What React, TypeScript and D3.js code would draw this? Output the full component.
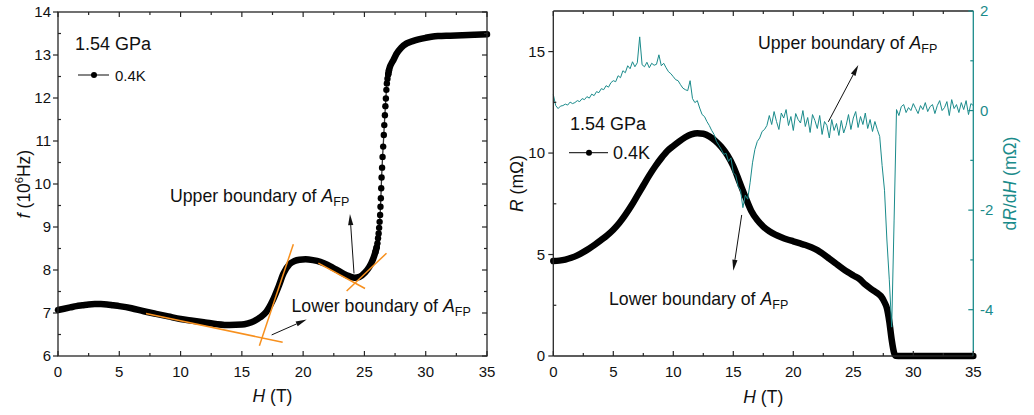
import React from 'react';
import * as d3 from 'd3';

const FONT = "'Liberation Sans', Arial, Helvetica, sans-serif";
const TEAL = '#1a8b8b';
const ORANGE = '#f7901e';
const AXIS = '#262626';

// ---------- Left panel: frequency f (10^6 Hz) vs field H (T) ----------
const fField = [0, 0.5, 1, 1.5, 2, 2.5, 3, 3.5, 4, 4.5, 5, 6, 7, 8, 9, 10, 11, 12, 13, 14, 15, 15.5, 16, 16.5, 17, 17.5, 18, 18.4, 18.9, 19.3, 19.7, 20.2, 20.8, 21.4, 22, 22.5, 23, 23.55, 24.2, 24.6, 25.05, 25.4, 25.7, 25.9, 26.0,
  26.06, 26.11, 26.16, 26.2, 26.24, 26.28, 26.31, 26.34, 26.37, 26.4, 26.44, 26.48, 26.53, 26.58, 26.62, 26.67, 26.71, 26.75, 26.79, 26.83, 26.88, 26.94,
  27.0, 27.1, 27.2, 27.36, 27.6, 28, 28.45, 29, 30, 30.6, 31, 32, 33, 34, 35];
const fFreq = [7.07, 7.10, 7.13, 7.16, 7.18, 7.20, 7.21, 7.21, 7.20, 7.18, 7.16, 7.11, 7.04, 6.98, 6.92, 6.86, 6.82, 6.78, 6.74, 6.72, 6.73, 6.76, 6.81, 6.90, 7.03, 7.28, 7.62, 7.92, 8.14, 8.21, 8.24, 8.25, 8.23, 8.19, 8.12, 8.04, 7.96, 7.88, 7.82, 7.84, 7.94, 8.07, 8.25, 8.42, 8.53,
  8.62, 8.74, 8.85, 8.98, 9.12, 9.28, 9.47, 9.67, 9.90, 10.15, 10.38, 10.63, 10.87, 11.14, 11.37, 11.60, 11.81, 11.99, 12.19, 12.34, 12.45, 12.55,
  12.64, 12.74, 12.80, 12.88, 13.02, 13.17, 13.27, 13.33, 13.40, 13.43, 13.44, 13.45, 13.46, 13.47, 13.48];

// ---------- Right panel: resistance R (mΩ) vs field H (T) ----------
const rField = [0, 0.5, 1, 1.5, 2, 2.5, 3, 3.5, 4, 4.5, 5, 5.5, 6, 6.5, 7, 7.5, 8, 8.5, 9, 9.5, 10, 10.5, 11, 11.5, 12, 12.5, 13, 13.5, 14, 14.5, 15, 15.5, 16, 16.5, 17, 17.5, 18, 18.5, 19, 19.5, 20, 20.5, 21, 21.5, 22, 22.5, 23, 23.5, 24, 24.5, 25, 25.5, 26, 26.5, 27, 27.3, 27.6, 27.8, 28, 28.2, 28.4, 28.5, 29, 30, 31, 32, 33, 34, 35];
const rRes = [4.68, 4.70, 4.75, 4.84, 4.96, 5.12, 5.30, 5.50, 5.72, 5.95, 6.22, 6.55, 6.95, 7.40, 7.90, 8.40, 8.90, 9.35, 9.75, 10.10, 10.35, 10.58, 10.78, 10.92, 10.98, 10.95, 10.82, 10.60, 10.30, 9.90, 9.35, 8.60, 7.85, 7.15, 6.70, 6.38, 6.15, 5.98, 5.85, 5.74, 5.65, 5.56, 5.47, 5.36, 5.22, 5.02, 4.80, 4.58, 4.36, 4.15, 3.97, 3.80, 3.52, 3.30, 3.10, 2.95, 2.65, 2.35, 1.70, 0.80, 0.15, 0.01, 0, 0, 0, 0, 0, 0, 0];

// ---------- Right panel: dR/dH (mΩ/T), one value every 0.2 T from 0 to 35 T ----------
const dStep = 0.2;
const dDeriv = [
  0.32, 0.10, 0.04, 0.09, 0.10, 0.13, 0.11, 0.17, 0.14, 0.16,
  0.20, 0.18, 0.24, 0.22, 0.28, 0.25, 0.33, 0.30, 0.38, 0.36,
  0.44, 0.42, 0.50, 0.47, 0.56, 0.60, 0.58, 0.70, 0.66, 0.80,
  0.76, 0.90, 0.84, 0.98, 0.88, 0.96, 1.48, 0.92, 0.88, 0.97,
  0.86, 0.95, 0.91, 0.93, 1.12, 0.90, 0.95, 0.86, 0.78, 0.74,
  0.68, 0.62, 0.60, 0.52, 0.45, 0.42, 0.40, 0.60, 0.24, 0.16,
  0.20, 0.05, -0.08, -0.12, -0.22, -0.30, -0.40, -0.48, -0.62, -0.70,
  -0.78, -0.88, -0.86, -1.02, -0.95, -1.25, -1.30, -1.52, -1.60, -1.95,
  -1.70, -1.78, -1.45, -1.05, -0.78, -0.62, -0.55, -0.42, -0.38, -0.30,
  -0.10, -0.28, -0.02, -0.22, -0.38, -0.05, -0.15, 0.02, -0.30, -0.12,
  -0.40, -0.06, -0.18, -0.25, 0.00, -0.32, -0.14, -0.44, -0.08, -0.20,
  -0.36, -0.10, -0.48, -0.22, -0.30, -0.55, -0.18, -0.40, -0.26, -0.50,
  -0.20, -0.45, -0.30, -0.08, -0.38, -0.15, -0.02, -0.34, -0.12, -0.28,
  -0.05, -0.36, -0.18, -0.42, -0.22, -0.38, -0.52, -1.10, -1.60, -2.60,
  -3.40, -4.35, -2.20, 0.02, -0.10, 0.08, 0.12, -0.04, 0.06, 0.00,
  0.14, 0.04, -0.06, 0.10, 0.02, 0.16, -0.02, 0.08, 0.12, -0.06,
  0.10, 0.20, 0.00, 0.06, 0.18, -0.10, 0.22, 0.04, 0.12, -0.04,
  0.16, 0.02, 0.20, -0.08, 0.14, 0.10,
];

// ---------- Ticks ----------
const fieldTicks = [0, 5, 10, 15, 20, 25, 30, 35];
const fieldMinor = [2.5, 7.5, 12.5, 17.5, 22.5, 27.5, 32.5];
const freqTicks = [6, 7, 8, 9, 10, 11, 12, 13, 14];
const freqMinor = [6.5, 7.5, 8.5, 9.5, 10.5, 11.5, 12.5, 13.5];
const resTicks = [0, 5, 10, 15];
const resMinor = [2.5, 7.5, 12.5];
const derivTicks = [-4, -2, 0, 2];
const derivMinor = [-3, -1, 1];

// ---------- Annotations (data coordinates) ----------
const tangentLines: [number, number, number, number][] = [
  [7.18, 6.99, 18.33, 6.32],
  [16.43, 6.24, 19.2, 8.6],
  [21.24, 8.16, 25.05, 7.57],
  [23.55, 7.51, 26.8, 8.39],
];
const leftArrows: [number, number, number, number][] = [
  [24.15, 7.92, 23.82, 9.3],
  [17.43, 6.49, 20.29, 6.85],
];
const rightArrows: [number, number, number, number][] = [
  [22.92, 11.54, 25.42, 14.34],
  [15.7, 6.95, 15.0, 4.2],
];

// ---------- Scales ----------
const xL = d3.scaleLinear().domain([0, 35]).range([58, 487]);
const yL = d3.scaleLinear().domain([6, 14]).range([356, 12]);
const xR = d3.scaleLinear().domain([0, 35]).range([553.3, 973.3]);
const yR = d3.scaleLinear().domain([0, 17]).range([356, 11]);
const yD = d3.scaleLinear().domain([-4.93, 2]).range([356, 11]);

type Pt = [number, number];

function Arrow({ x1, y1, x2, y2, len = 11, w = 2.6 }: any) {
  const dx = x2 - x1, dy = y2 - y1;
  const L = Math.hypot(dx, dy);
  const ux = dx / L, uy = dy / L;
  const bx = x2 - ux * len, by = y2 - uy * len;
  const px = -uy * w, py = ux * w;
  return (
    <g>
      <line x1={x1} y1={y1} x2={bx} y2={by} stroke="#111" strokeWidth={1} />
      <polygon points={`${x2},${y2} ${bx + px},${by + py} ${bx - px},${by - py}`} fill="#111" />
    </g>
  );
}

function XTicks({ scale, values, y, len, color = AXIS }: any) {
  return (
    <g>
      {values.map((v: number) => (
        <line key={v} x1={scale(v)} x2={scale(v)} y1={y} y2={y + len} stroke={color} strokeWidth={1.2} />
      ))}
    </g>
  );
}
function YTicks({ scale, values, x, len, color = AXIS }: any) {
  return (
    <g>
      {values.map((v: number) => (
        <line key={v} y1={scale(v)} y2={scale(v)} x1={x} x2={x + len} stroke={color} strokeWidth={1.2} />
      ))}
    </g>
  );
}

function AFP() {
  return (
    <>
      <tspan fontStyle="italic">A</tspan>
      <tspan fontSize={12.5} dy={4}>FP</tspan>
    </>
  );
}

export default function App() {
  const fPts: Pt[] = fField.map((h, i) => [h, fFreq[i]]);
  const rPts: Pt[] = rField.map((h, i) => [h, rRes[i]]);
  const dPts: Pt[] = dDeriv.map((d, i) => [+(i * dStep).toFixed(1), d]);

  const lineL = d3.line<Pt>().x(d => xL(d[0])).y(d => yL(d[1])).curve(d3.curveMonotoneX);
  const lineR = d3.line<Pt>().x(d => xR(d[0])).y(d => yR(d[1])).curve(d3.curveMonotoneX);
  const lineD = d3.line<Pt>().x(d => xR(d[0])).y(d => yD(d[1]));

  const fBandLow = fPts.filter(p => p[0] <= 26.0);
  const fBandHigh = fPts.filter(p => p[0] >= 26.9);
  const fDots = fPts.filter(p => p[0] >= 25.9 && p[0] <= 27.0);

  const L = { x0: 58, x1: 487, y0: 12, y1: 356 };
  const R = { x0: 553.3, x1: 973.3, y0: 11, y1: 356 };
  const ann = 17.7;

  return (
    <svg width={1034} height={415} style={{ position: 'absolute', left: 0, top: 0, background: '#fff' }} fontFamily={FONT}>
      <rect x={0} y={0} width={1034} height={415} fill="#fff" />
      {/* ================= LEFT PANEL ================= */}
      <g>
        <path d={lineL(fPts) || ''} fill="none" stroke="#333" strokeWidth={1.3} />
        <path d={lineL(fBandLow) || ''} fill="none" stroke="#000" strokeWidth={6.5} strokeLinejoin="round" strokeLinecap="round" />
        <path d={lineL(fBandHigh) || ''} fill="none" stroke="#000" strokeWidth={6.5} strokeLinejoin="round" strokeLinecap="round" />
        {fDots.map((p, i) => (
          <circle key={i} cx={xL(p[0])} cy={yL(p[1])} r={3.2} fill="#000" />
        ))}
        {tangentLines.map((t, i) => (
          <line key={i} x1={xL(t[0])} y1={yL(t[1])} x2={xL(t[2])} y2={yL(t[3])} stroke={ORANGE} strokeWidth={1.5} />
        ))}
        <rect x={L.x0} y={L.y0} width={L.x1 - L.x0} height={L.y1 - L.y0} fill="none" stroke={AXIS} strokeWidth={1.3} />
        <XTicks scale={xL} values={fieldTicks} y={L.y1} len={-5} />
        <XTicks scale={xL} values={fieldMinor} y={L.y1} len={-3} />
        <XTicks scale={xL} values={fieldTicks} y={L.y0} len={5} />
        <XTicks scale={xL} values={fieldMinor} y={L.y0} len={3} />
        <YTicks scale={yL} values={freqTicks} x={L.x0} len={-5} />
        <YTicks scale={yL} values={freqMinor} x={L.x0} len={3} />
        <YTicks scale={yL} values={freqTicks} x={L.x1} len={-5} />
        <YTicks scale={yL} values={freqMinor} x={L.x1} len={-3} />
        {fieldTicks.map(v => (
          <text key={v} x={xL(v)} y={377} textAnchor="middle" fontSize={15} fill="#111">{v}</text>
        ))}
        {freqTicks.map(v => (
          <text key={v} x={51} y={yL(v) + 5.3} textAnchor="end" fontSize={15} fill="#111">{v}</text>
        ))}
        <text x={(L.x0 + L.x1) / 2} y={402} textAnchor="middle" fontSize={17.5} fill="#111">
          <tspan fontStyle="italic">H</tspan> (T)
        </text>
        <text transform={`translate(30, ${(L.y0 + L.y1) / 2}) rotate(-90)`} textAnchor="middle" fontSize={17.5} fill="#111">
          <tspan fontStyle="italic">f</tspan> (10<tspan fontSize={11} dy={-7}>6</tspan><tspan dy={7}>Hz)</tspan>
        </text>
        <text x={75} y={50} fontSize={18} fill="#111">1.54 GPa</text>
        <line x1={78} x2={109} y1={75} y2={75} stroke="#333" strokeWidth={1.2} />
        <circle cx={94} cy={75} r={3} fill="#000" />
        <text x={115} y={80.5} fontSize={15} fill="#111">0.4K</text>
        <text x={170} y={201.5} fontSize={ann} fill="#111">Upper boundary of <AFP /></text>
        <text x={291.5} y={312} fontSize={ann} fill="#111">Lower boundary of <AFP /></text>
        {leftArrows.map((a, i) => (
          <Arrow key={i} x1={xL(a[0])} y1={yL(a[1])} x2={xL(a[2])} y2={yL(a[3])} />
        ))}
      </g>

      {/* ================= RIGHT PANEL ================= */}
      <g>
        <path d={lineR(rPts) || ''} fill="none" stroke="#000" strokeWidth={6.5} strokeLinejoin="round" strokeLinecap="round" />
        <path d={lineD(dPts) || ''} fill="none" stroke={TEAL} strokeWidth={1} strokeLinejoin="round" />
        <line x1={R.x0} x2={R.x1} y1={R.y1} y2={R.y1} stroke={AXIS} strokeWidth={1.3} />
        <line x1={R.x0} x2={R.x1} y1={R.y0} y2={R.y0} stroke={AXIS} strokeWidth={1.3} />
        <line x1={R.x0} x2={R.x0} y1={R.y0} y2={R.y1} stroke={AXIS} strokeWidth={1.3} />
        <line x1={R.x1} x2={R.x1} y1={R.y0} y2={R.y1} stroke={TEAL} strokeWidth={1.3} />
        <XTicks scale={xR} values={fieldTicks} y={R.y1} len={-5} />
        <XTicks scale={xR} values={fieldMinor} y={R.y1} len={-3} />
        <XTicks scale={xR} values={fieldTicks.slice(0, -1)} y={R.y0} len={5} />
        <XTicks scale={xR} values={fieldMinor} y={R.y0} len={3} />
        <YTicks scale={yR} values={resTicks} x={R.x0} len={-5} />
        <YTicks scale={yR} values={resMinor} x={R.x0} len={3} />
        <YTicks scale={yD} values={derivTicks} x={R.x1} len={-5} color={TEAL} />
        <YTicks scale={yD} values={derivMinor} x={R.x1} len={-3} color={TEAL} />
        {fieldTicks.map(v => (
          <text key={v} x={xR(v)} y={377} textAnchor="middle" fontSize={15} fill="#111">{v}</text>
        ))}
        {resTicks.map(v => (
          <text key={v} x={545} y={yR(v) + 5.3} textAnchor="end" fontSize={15} fill="#111">{v}</text>
        ))}
        {derivTicks.map(v => (
          <text key={v} x={980} y={yD(v) + 5.3} textAnchor="start" fontSize={15} fill={TEAL}>{v}</text>
        ))}
        <text x={(R.x0 + R.x1) / 2} y={403} textAnchor="middle" fontSize={17.5} fill="#111">
          <tspan fontStyle="italic">H</tspan> (T)
        </text>
        <text transform={`translate(523, ${(R.y0 + R.y1) / 2}) rotate(-90)`} textAnchor="middle" fontSize={17.5} fill="#111">
          <tspan fontStyle="italic">R</tspan> (mΩ)
        </text>
        <text transform={`translate(1016, ${(R.y0 + R.y1) / 2}) rotate(-90)`} textAnchor="middle" fontSize={17.5} fill={TEAL}>
          d<tspan fontStyle="italic">R</tspan>/d<tspan fontStyle="italic">H</tspan> (mΩ)
        </text>
        <text x={570} y={129.5} fontSize={18} fill="#111">1.54 GPa</text>
        <line x1={569} x2={608} y1={152.7} y2={152.7} stroke="#333" strokeWidth={1.2} />
        <circle cx={589} cy={152.7} r={3} fill="#000" />
        <text x={613} y={159} fontSize={18} fill="#111">0.4K</text>
        <text x={758} y={48.5} fontSize={ann} fill="#111">Upper boundary of <AFP /></text>
        <text x={609} y={305} fontSize={ann} fill="#111">Lower boundary of <AFP /></text>
        {rightArrows.map((a, i) => (
          <Arrow key={i} x1={xR(a[0])} y1={yR(a[1])} x2={xR(a[2])} y2={yR(a[3])} />
        ))}
      </g>
    </svg>
  );
}
